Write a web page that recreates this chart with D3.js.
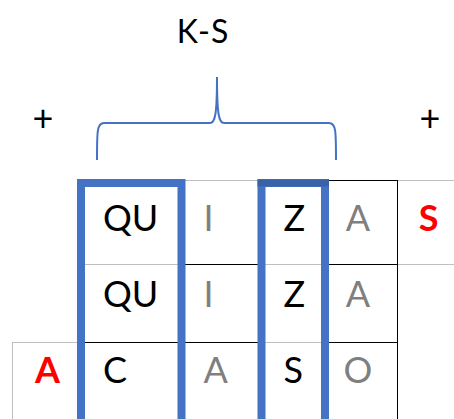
<!DOCTYPE html>
<html>
<head>
<meta charset="utf-8">
<script src="https://cdn.jsdelivr.net/npm/d3@7"></script>
<style>
  html, body { margin: 0; padding: 0; background: #fff; }
  svg { display: block; }
</style>
</head>
<body>
<div id="chart"></div>
<script>
// ---- data ----
const row1 = ["QU", "I", "Z", "A"];
const row2 = ["QU", "I", "Z", "A"];
const row3 = ["C", "A", "S", "O"];
const rows = [row1, row2, row3];
const columnTone = ["dark", "light", "dark", "light"];
const highlightedColumns = [0, 2];
const prefixLetters = ["", "", "A"];   // red letter before each row
const suffixLetters = ["S", "", ""];   // red letter after each row
const braceLabel = "K-S";
const operators = ["+", "+"];

// ---- layout ----
const W = 454, H = 419;
const FONT = "Lato, Carlito, 'Open Sans', sans-serif";
const BLUE = "#4472C4", RED = "#FF0000", GREY_TXT = "#7F7F7F";

const svg = d3.select("#chart").append("svg")
  .attr("width", W).attr("height", H);
svg.append("rect").attr("width", W).attr("height", H).attr("fill", "#fff");

// columns: -1 = prefix column, 0..3 = syllables, 4 = suffix column
const xEdge = d3.scaleLinear()
  .domain([-1, 0, 1, 2, 3, 4, 5])
  .range([12, 81, 181.5, 261.5, 325, 397, 454]);
const yEdge = d3.scaleLinear()
  .domain([0, 1, 2, 3])
  .range([180, 264, 342, 420]);
const yBase = d3.scaleLinear()
  .domain([0, 1, 2])
  .range([231, 307, 383]);

const g = svg.append("g");

function hline(y, x1, x2, color) {
  g.append("line").attr("x1", x1).attr("x2", x2).attr("y1", y).attr("y2", y)
    .attr("stroke", color).attr("stroke-width", 1).attr("shape-rendering", "crispEdges");
}
function vline(x, y1, y2, color) {
  g.append("line").attr("x1", x).attr("x2", x).attr("y1", y1).attr("y2", y2)
    .attr("stroke", color).attr("stroke-width", 1).attr("shape-rendering", "crispEdges");
}
const LG = "#BFBFBF", BK = "#000";
hline(yEdge(0), xEdge(1), W, LG);
hline(yEdge(1), xEdge(0), W, LG);
hline(yEdge(2), xEdge(-1), xEdge(0), LG);
hline(yEdge(2), xEdge(0), xEdge(4), LG);
vline(xEdge(-1), yEdge(2), H, LG);
hline(yEdge(0), xEdge(3) + 3, xEdge(4), BK);
hline(yEdge(1), xEdge(1) + 3, xEdge(2) - 3, BK);
hline(yEdge(1), xEdge(3) + 3, xEdge(4), BK);
hline(yEdge(2), xEdge(0), xEdge(1), BK);
hline(yEdge(2), xEdge(1), xEdge(2), BK);
hline(yEdge(2), xEdge(3), xEdge(4), BK);
vline(xEdge(4), yEdge(0), H, BK);

rows.forEach((row, r) => {
  row.forEach((s, c) => {
    const centered = c === 3;
    g.append("text")
      .attr("x", centered ? (xEdge(c) + xEdge(c + 1)) / 2 - 3 : xEdge(c) + 22)
      .attr("y", yBase(r))
      .attr("text-anchor", centered ? "middle" : "start")
      .attr("font-family", FONT).attr("font-size", 36)
      .attr("fill", columnTone[c] === "dark" ? "#000" : GREY_TXT)
      .text(s);
  });
  if (prefixLetters[r]) {
    g.append("text")
      .attr("x", (xEdge(-1) + xEdge(0)) / 2 + 1).attr("y", yBase(r))
      .attr("text-anchor", "middle").attr("font-family", FONT)
      .attr("font-size", 36).attr("font-weight", "bold").attr("fill", RED)
      .text(prefixLetters[r]);
  }
  if (suffixLetters[r]) {
    g.append("text")
      .attr("x", (xEdge(4) + xEdge(5)) / 2 + 3).attr("y", yBase(r))
      .attr("text-anchor", "middle").attr("font-family", FONT)
      .attr("font-size", 36).attr("font-weight", "bold").attr("fill", RED)
      .text(suffixLetters[r]);
  }
});

highlightedColumns.forEach((c, i) => {
  const x1 = xEdge(c), x2 = xEdge(c + 1);
  const top = yEdge(0) + 3;
  g.append("path")
    .attr("d", `M${x1},${H + 10} L${x1},${top} L${x2},${top} L${x2},${H + 10}`)
    .attr("fill", "none").attr("stroke", BLUE).attr("stroke-width", 8)
    .attr("stroke-linejoin", "miter");
  if (i === 1) {
    g.append("line").attr("x1", x1 - 4).attr("x2", x2 + 4)
      .attr("y1", top).attr("y2", top)
      .attr("stroke", "#3A62A7").attr("stroke-width", 7);
  }
});

const bL = 97, bR = 336, bBot = 160, bMid = 123, bTop = 77, bPeak = 217;
g.append("path")
  .attr("d", `M${bL},${bBot} C${bL},${bMid + 8} ${bL},${bMid} ${bL + 7},${bMid}
              L${bPeak - 7},${bMid} C${bPeak - 2},${bMid} ${bPeak},${bMid - 8} ${bPeak},${bTop}
              C${bPeak},${bMid - 8} ${bPeak + 2},${bMid} ${bPeak + 7},${bMid}
              L${bR - 7},${bMid} C${bR},${bMid} ${bR},${bMid + 8} ${bR},${bBot}`)
  .attr("fill", "none").attr("stroke", BLUE).attr("stroke-width", 2);

g.append("text").attr("x", 203).attr("y", 43).attr("text-anchor", "middle")
  .attr("font-family", FONT).attr("font-size", 32).attr("fill", "#000")
  .attr("letter-spacing", 1)
  .text(braceLabel);

[43, 430].forEach((x, i) => {
  g.append("text").attr("x", x).attr("y", 131).attr("text-anchor", "middle")
    .attr("font-family", FONT).attr("font-size", 36).attr("fill", "#000")
    .text(operators[i]);
});
</script>
</body>
</html>
